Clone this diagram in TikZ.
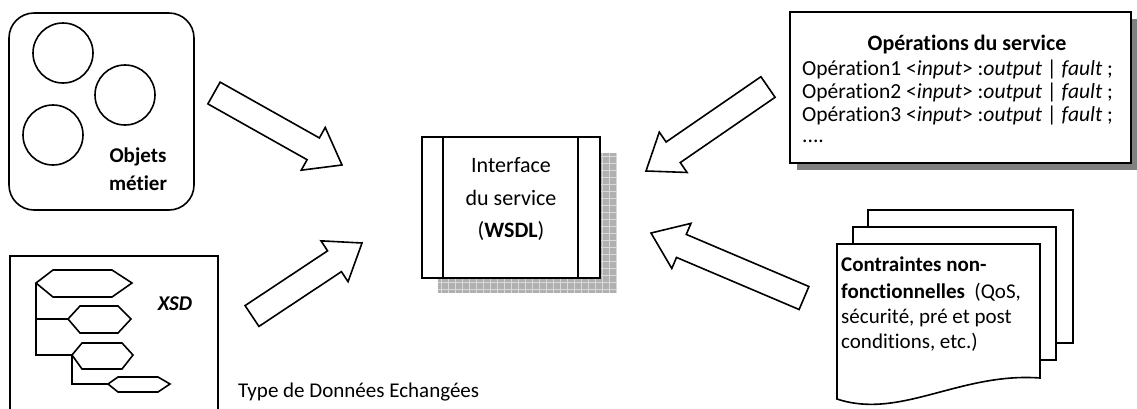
\documentclass[tikz,border=0pt]{standalone}
\usepackage{fontspec}
\setmainfont{Carlito}[Ligatures={NoCommon}]
\usetikzlibrary{calc}
\tikzset{
  ln/.style={line width=1.6pt, draw=black, line join=miter},
  barrow/.style={ln, fill=white},
  opstxt/.style={inner sep=0pt, anchor=base west, font=\fontsize{21.5}{24}\selectfont},
  wtxt/.style={inner sep=0pt, anchor=base, font=\fontsize{22}{26}\selectfont},
  ctxt/.style={inner sep=0pt, anchor=base west, font=\fontsize{21}{24}\selectfont},
  btxt/.style={inner sep=0pt, anchor=base, font=\fontsize{21}{24}\selectfont\bfseries},
  hexa/.style={ln, fill=white},
}
\newcommand\blockarrow[2]{%
  \path let \p1=($(#2)-(#1)$) in \pgfextra{%
    \pgfmathsetmacro\baang{atan2(\y1,\x1)}%
    \pgfmathsetmacro\balen{veclen(\x1,\y1)}%
    \global\let\baang\baang\global\let\balen\balen};
  \draw[barrow, shift={(#1)}, rotate=\baang]
    (0,12.5) -- (\balen-33,12.5) -- (\balen-33,24.5) -- (\balen,0)
    -- (\balen-33,-24.5) -- (\balen-33,-12.5) -- (0,-12.5) -- cycle;
}
\begin{document}
\begin{tikzpicture}[x=1pt, y=-1pt]
\useasboundingbox (0,0) rectangle (1137,408);
\fill[white] (0,0) rectangle (1137,408);

% ---- Objets metier
\draw[ln, rounded corners=25] (9,13) rectangle (194,210);
\node[ln, circle, minimum size=60, inner sep=0] (c1) at (63,53) {};
\node[ln, circle, minimum size=60, inner sep=0] (c2) at (125,95) {};
\node[ln, circle, minimum size=60, inner sep=0] (c3) at (53,135) {};
\node[btxt] (obj1) at (138,162) {Objets};
\node[btxt] (obj2) at (138,190) {métier};

% ---- XSD
\draw[ln] (10,412) -- (10,256) -- (218,256) -- (218,412);
\coordinate (h1) at (36,283);
\coordinate (h2) at (68,319);
\coordinate (h3) at (72,355);
\coordinate (h4) at (108,384);
\draw[ln] (h1) |- (h3);
\draw[ln] (h1) |- (h2);
\draw[ln] (h3) |- (h4);
\draw[hexa] (36,283) -- (53,270) -- (112,270) -- (132,283) -- (112,297) -- (53,297) -- cycle;
\draw[hexa] (68,319) -- (80,306) -- (118,306) -- (131,319) -- (118,333) -- (80,333) -- cycle;
\draw[hexa] (72,355) -- (82,343) -- (122,343) -- (133,355) -- (122,369) -- (82,369) -- cycle;
\draw[hexa] (108,384) -- (118,377) -- (158,377) -- (170,384) -- (158,392) -- (118,392) -- cycle;
\node[btxt, font=\fontsize{21}{24}\selectfont\bfseries\itshape] (xsd) at (175,310) {XSD};
\node[inner sep=0pt, anchor=base west, font=\fontsize{21}{24}\selectfont] (type) at (238,397) {Type de Données Echangées};

% ---- WSDL interface
\fill[gray!62] (438,153) rectangle (616,293);
\foreach \gx in {441,448,...,616} \draw[gray!30, line width=0.8pt] (\gx,153) -- (\gx,293);
\foreach \gy in {156,163,...,293} \draw[gray!30, line width=0.8pt] (438,\gy) -- (616,\gy);
\node[ln, fill=white, rectangle, minimum width=178, minimum height=141, inner sep=0] (wsdl) at (511,207.5) {};
\draw[ln] (443,137) -- (443,278);
\draw[ln] (578,137) -- (578,278);
\node[wtxt] (w1) at (511,172) {Interface};
\node[wtxt] (w2) at (511,205) {du service};
\node[wtxt] (w3) at (511,237) {(\textbf{WSDL})};

% ---- Operations
\fill[gray] (797,19) rectangle (1137,170);
\node[ln, fill=white, rectangle, minimum width=341, minimum height=151, inner sep=0] (ops) at (960.5,87.5) {};
\node[inner sep=0pt, anchor=base, font=\fontsize{22}{24}\selectfont\bfseries] (opt) at (967,50) {Opérations du service};
\node[opstxt] (op1) at (802,75) {Opération1 <\textit{input}> :\textit{output} | \textit{fault} ;};
\node[opstxt] (op2) at (802,98) {Opération2 <\textit{input}> :\textit{output} | \textit{fault} ;};
\node[opstxt] (op3) at (802,121) {Opération3 <\textit{input}> :\textit{output} | \textit{fault} ;};
\node[opstxt] (op4) at (802,142) {....};

% ---- Contraintes (multi-document)
\draw[ln, fill=white] (868,210) rectangle (1073,343);
\draw[ln, fill=white] (853,227) rectangle (1056,360);
\draw[ln, fill=white] (837,399) -- (837,244) -- (1040,244) -- (1040,378)
   .. controls (960,372) and (900,420) .. cycle;
\node[ctxt] (k1) at (841,271) {\textbf{Contraintes non-}};
\node[ctxt] (k2) at (841,298) {\textbf{fonctionnelles}\ \ (QoS,};
\node[ctxt] (k3) at (841,323) {sécurité, pré et post};
\node[ctxt] (k4) at (841,348) {conditions, etc.)};

% ---- block arrows
\coordinate (a1s) at (214,93);  \coordinate (a1e) at (342,165);
\coordinate (a2s) at (252,316); \coordinate (a2e) at (362,243);
\coordinate (a3s) at (768,87);  \coordinate (a3e) at (646,171);
\coordinate (a4s) at (804,298); \coordinate (a4e) at (651,233);
\blockarrow{a1s}{a1e}
\blockarrow{a2s}{a2e}
\blockarrow{a3s}{a3e}
\blockarrow{a4s}{a4e}
\end{tikzpicture}
\end{document}
